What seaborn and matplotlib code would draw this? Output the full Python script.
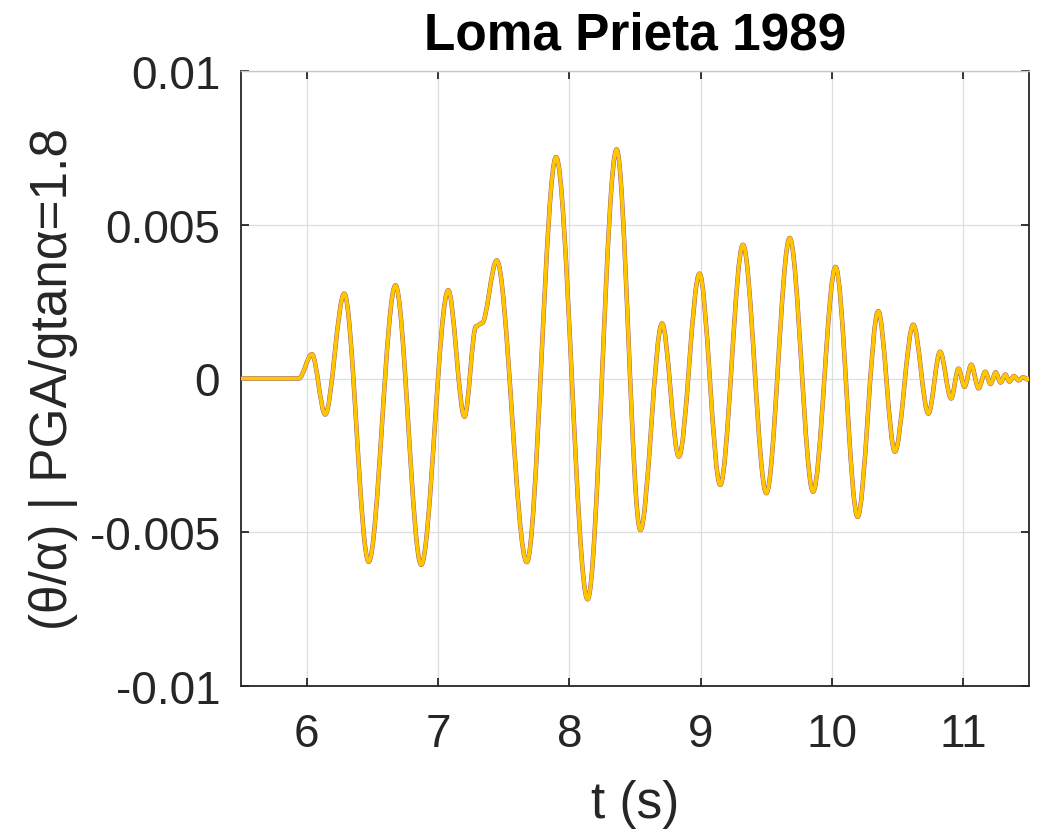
import matplotlib
matplotlib.use("Agg")
import matplotlib.pyplot as plt
from matplotlib.path import Path
from matplotlib.patches import PathPatch
import seaborn as sns

# ---- chart text -------------------------------------------------------
title = "Loma Prieta 1989"
xlabel = "t (s)"
ylabel = "(θ/α) | PGA/gtanα=1.8"
xticks = [6, 7, 8, 9, 10, 11]
xtick_labels = ["6", "7", "8", "9", "10", "11"]
yticks = [-0.01, -0.005, 0, 0.005, 0.01]
ytick_labels = ["-0.01", "-0.005", "0", "0.005", "0.01"]

# ---- data: turning points of the response -----------------------------
t_turn = [5.50, 5.94, 6.040, 6.141, 6.286, 6.472, 6.676, 6.872, 7.078, 7.202,
          7.290, 7.335, 7.447, 7.676, 7.899, 8.139, 8.360, 8.541, 8.706, 8.834,
          8.991, 9.149, 9.322, 9.500, 9.678, 9.856, 10.027, 10.195, 10.352, 10.479,
          10.619, 10.734, 10.823, 10.907, 10.963, 11.009, 11.060, 11.116, 11.167, 11.207,
          11.246, 11.284, 11.320, 11.350, 11.385, 11.420, 11.455, 11.490, 11.500]
v_turn = [0.0, 0.0, 0.00079, -0.00117, 0.00276, -0.00596, 0.00303, -0.00606, 0.00287, -0.00124,
          0.00170, 0.00180, 0.00384, -0.00597, 0.00720, -0.00718, 0.00745, -0.00493, 0.00179, -0.00254,
          0.00341, -0.00346, 0.00435, -0.00373, 0.00457, -0.00368, 0.00363, -0.00450, 0.00219, -0.00238,
          0.00175, -0.00114, 0.00087, -0.00065, 0.00032, -0.00027, 0.00045, -0.00032, 0.00022, -0.00018,
          0.00020, -0.00013, 0.00013, -0.00010, 0.00008, -0.00006, 0.00004, -0.00003, 0.0]

# ---- style --------------------------------------------------------------
sns.set_theme(style="whitegrid")
FONT = ["Liberation Sans", "DejaVu Sans"]
plt.rcParams["font.family"] = FONT
TXT = "#262626"

fig = plt.figure(figsize=(10.38, 8.37), dpi=100)
ax = fig.add_axes([241 / 1038, 1 - 687 / 837, 788 / 1038, 615 / 837])
ax.set_facecolor("white")
fig.patch.set_facecolor("white")


def smooth_path(ts, vs):
    verts = [(ts[0], vs[0])]
    codes = [Path.MOVETO]
    for i in range(len(ts) - 1):
        t0, v0, t1, v1 = ts[i], vs[i], ts[i + 1], vs[i + 1]
        d = t1 - t0
        verts += [(t0 + d / 3, v0), (t1 - d / 3, v1), (t1, v1)]
        codes += [Path.CURVE4] * 3
    return Path(verts, codes)


path = smooth_path(t_turn, v_turn)
ax.add_patch(PathPatch(path, facecolor="none", edgecolor="#8A4A7E", lw=3.2,
                       transform=ax.transData, zorder=3, capstyle="round", joinstyle="round"))
ax.add_patch(PathPatch(path, facecolor="none", edgecolor="#FFC600", lw=2.7,
                       transform=ax.transData, zorder=4, capstyle="round", joinstyle="round"))

ax.set_xlim(5.5, 11.5)
ax.set_ylim(-0.01, 0.01)
ax.set_xticks(xticks)
ax.set_xticklabels(xtick_labels)
ax.set_yticks(yticks)
ax.set_yticklabels(ytick_labels)

ax.grid(True, color="#DEDEDE", lw=0.9)
ax.set_axisbelow(True)

for side in ["left", "bottom", "right"]:
    ax.spines[side].set_visible(True)
    ax.spines[side].set_color(TXT)
    ax.spines[side].set_linewidth(1.3)
ax.spines["top"].set_visible(True)
ax.spines["top"].set_color("#C8C8C8")
ax.spines["top"].set_linewidth(1.0)

ax.tick_params(axis="both", which="major", direction="in", length=6, width=1.3,
               color=TXT, labelcolor=TXT, labelsize=33,
               top=True, right=True, bottom=True, left=True)
ax.tick_params(axis="x", pad=19)
ax.tick_params(axis="y", pad=15)
for lab in ax.get_xticklabels() + ax.get_yticklabels():
    lab.set_fontfamily(FONT)

ax.set_title(title, fontsize=37, fontweight="bold", color="black", pad=16, family=FONT)
ax.set_xlabel(xlabel, fontsize=37, color=TXT, family=FONT)
ax.xaxis.set_label_coords(0.5, -0.152)
ax.set_ylabel(ylabel, fontsize=37, color=TXT, family=FONT)
ax.yaxis.set_label_coords(-0.207, 0.5)

fig.savefig("out.png", dpi=100, facecolor="white")
